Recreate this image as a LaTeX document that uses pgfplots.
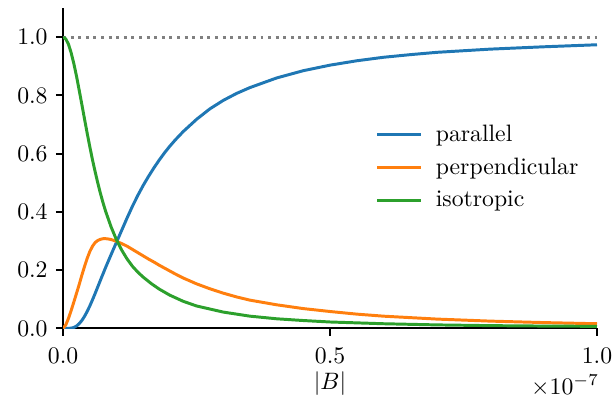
\documentclass[border=0pt]{standalone}
\usepackage{pgfplots}
\pgfplotsset{compat=1.18}

% tab10 palette
\definecolor{tabblue}{HTML}{1F77B4}
\definecolor{taborange}{HTML}{FF7F0E}
\definecolor{tabgreen}{HTML}{2CA02C}
\definecolor{refgray}{HTML}{808080}

\pgfplotstableread{
x y
0.000 0.000
0.010 0.000
0.015 0.001
0.020 0.003
0.025 0.008
0.030 0.016
0.035 0.027
0.040 0.041
0.045 0.058
0.050 0.077
0.055 0.098
0.060 0.120
0.065 0.143
0.070 0.166
0.080 0.211
0.090 0.254
0.100 0.296
0.110 0.338
0.120 0.380
0.130 0.420
0.140 0.457
0.150 0.491
0.160 0.522
0.170 0.551
0.180 0.578
0.190 0.603
0.200 0.626
0.210 0.647
0.225 0.676
0.250 0.718
0.275 0.754
0.300 0.783
0.325 0.807
0.350 0.827
0.400 0.860
0.450 0.885
0.500 0.904
0.550 0.919
0.600 0.931
0.650 0.940
0.700 0.948
0.800 0.959
0.900 0.967
1.000 0.974
}\parallelB

\pgfplotstableread{
x y
0.000 0.000
0.005 0.012
0.010 0.034
0.015 0.061
0.020 0.090
0.025 0.120
0.030 0.150
0.035 0.182
0.040 0.212
0.045 0.240
0.050 0.264
0.055 0.282
0.060 0.295
0.065 0.302
0.070 0.306
0.075 0.308
0.080 0.308
0.085 0.307
0.090 0.305
0.095 0.302
0.100 0.299
0.110 0.291
0.120 0.282
0.130 0.271
0.140 0.260
0.150 0.249
0.160 0.238
0.170 0.228
0.180 0.217
0.190 0.207
0.200 0.197
0.210 0.187
0.225 0.173
0.250 0.153
0.275 0.136
0.300 0.121
0.325 0.108
0.350 0.097
0.400 0.081
0.450 0.068
0.500 0.058
0.550 0.049
0.600 0.042
0.700 0.032
0.800 0.025
0.900 0.020
1.000 0.016
}\perpB

\pgfplotstableread{
x y
0.000 1.000
0.005 0.994
0.010 0.976
0.015 0.947
0.020 0.910
0.025 0.867
0.030 0.819
0.035 0.770
0.040 0.720
0.045 0.671
0.050 0.624
0.055 0.579
0.060 0.538
0.065 0.499
0.070 0.463
0.075 0.430
0.080 0.400
0.090 0.348
0.100 0.304
0.110 0.268
0.120 0.238
0.130 0.213
0.140 0.193
0.150 0.176
0.165 0.154
0.180 0.135
0.200 0.114
0.225 0.093
0.250 0.077
0.300 0.056
0.350 0.042
0.400 0.033
0.450 0.027
0.500 0.022
0.600 0.016
0.700 0.012
0.800 0.0095
0.900 0.008
1.000 0.007
}\isoB

\begin{document}
\begin{tikzpicture}
\begin{axis}[
  name=ax,
  scale only axis,
  width=225pt, height=135pt,
  xmin=0, xmax=1, ymin=0, ymax=1.1,
  clip mode=individual,
  axis x line=bottom, axis y line=left,
  axis line style={-, line width=0.8pt},
  tick align=outside,
  major tick length=3pt,
  every tick/.style={black, line width=0.8pt},
  xtick={0,0.5,1},
  ytick={0,0.2,0.4,0.6,0.8,1.0},
  xticklabel style={yshift=-2pt, /pgf/number format/.cd, fixed, fixed zerofill, precision=1},
  yticklabel style={/pgf/number format/.cd, fixed, fixed zerofill, precision=1},
  scaled x ticks=false,
  xlabel={$|B|$},
  xlabel style={at={(axis description cs:0.5,0)}, anchor=base, yshift=-25.7pt},
  legend style={at={(0.585,0.503)}, anchor=west, draw=none, fill=none,
    row sep=1.4pt, inner sep=0pt},
  legend cell align=left,
  legend image code/.code={\draw[#1] (0pt,0pt) -- (18.5pt,0pt);
    \path (22pt,0pt);},
  every axis plot/.append style={line width=1.25pt},
]
% reference level
\addplot[refgray, line width=1.25pt, dash pattern=on 1.25pt off 1.95pt, forget plot]
  coordinates {(0,1) (1,1)};

\addplot[tabblue] table {\parallelB};
\addlegendentry{parallel}

\addplot[taborange] table {\perpB};
\addlegendentry{perpendicular}

\addplot[tabgreen] table {\isoB};
\addlegendentry{isotropic}

\node[anchor=base east, inner sep=0pt] at (rel axis cs:1,0) [xshift=1pt, yshift=-27.8pt] {$\times10^{-7}$};
\end{axis}
\pgfresetboundingbox
\path[use as bounding box] ([xshift=-26.6pt, yshift=-33pt]ax.south west)
  rectangle ([xshift=6.75pt, yshift=3.4pt]ax.north east);
\end{tikzpicture}
\end{document}
